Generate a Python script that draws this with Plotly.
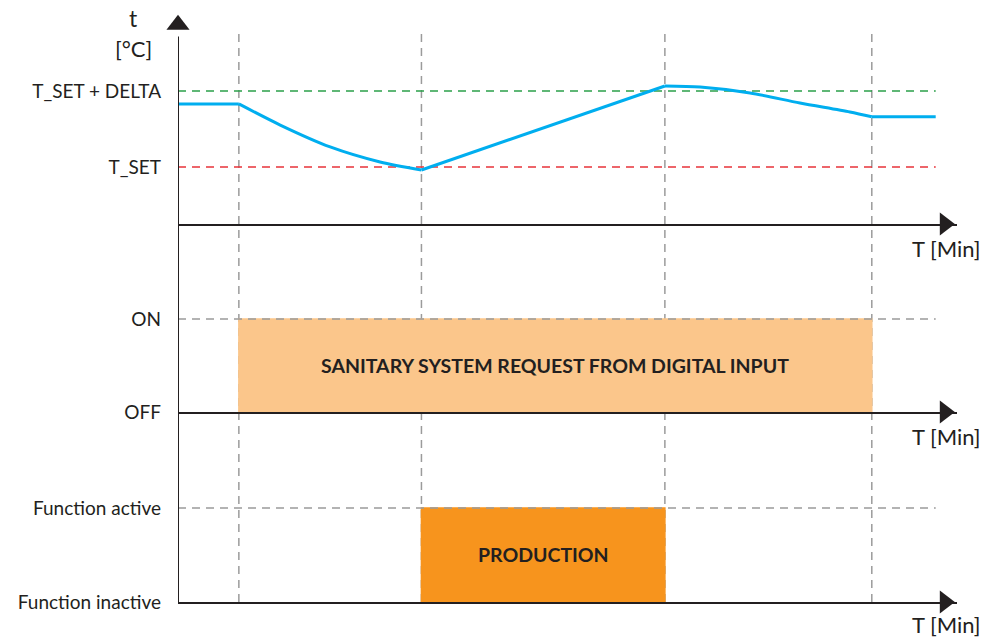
import plotly.graph_objects as go
from plotly.subplots import make_subplots

# switching instants (minutes)
t_start, t_request_on, t_production_on, t_production_off, t_request_off, t_end = 0, 1, 4, 8, 11.4, 12.45
x_max = 12.8

# temperature values
t_set = 40
t_set_delta = 45
temp_x = [0, 1, 1.68, 2.5, 3.32, 4, 8, 8.58, 9.4, 10.22, 11.04, 11.4, 12.45]
temp_y = [44.15, 44.15, 42.76, 41.32, 40.33, 39.8, 45.33, 45.26, 44.87, 44.21, 43.62, 43.3, 43.3]

off_on_vals = [0, 1]
off_on_text = ["OFF", "ON"]
func_vals = [0, 1]
func_text = ["Function inactive", "Function active"]

FONT = "Lato"
DARK = "#231f20"
GREY = "#9b9b9b"
LIGHT_ORANGE = "#fbc68b"
ORANGE = "#f7941d"

fig = make_subplots(rows=3, cols=1, shared_xaxes=False)

# temperature panel
fig.add_trace(go.Scatter(x=[t_start, t_end], y=[t_set_delta] * 2, mode="lines",
                         line=dict(color="#2ba04a", width=1.5, dash="8px,6px")), row=1, col=1)
fig.add_trace(go.Scatter(x=[t_start, t_end], y=[t_set] * 2, mode="lines",
                         line=dict(color="#e8333a", width=1.5, dash="8px,6px")), row=1, col=1)
# temperature curve, drawn piece by piece so the flat parts stay flat
for a, b, shape in [(0, 2, "linear"), (1, 6, "spline"), (5, 7, "linear"), (6, 12, "spline"), (11, 13, "linear")]:
    fig.add_trace(go.Scatter(x=temp_x[a:b], y=temp_y[a:b], mode="lines",
                             line=dict(color="#00aeef", width=3, shape=shape, smoothing=0.8)),
                  row=1, col=1)

# vertical dashed markers (under the boxes)
for tx in [t_request_on, t_production_on, t_production_off, t_request_off]:
    fig.add_shape(type="line", x0=tx, x1=tx, xref="x", yref="paper", y0=0, y1=0.966,
                  layer="below", line=dict(color=GREY, width=1.5, dash="8px,6px"))

# request panel
fig.add_trace(go.Scatter(x=[t_start, t_end], y=[1, 1], mode="lines",
                         line=dict(color=GREY, width=1.5, dash="8px,6px")), row=2, col=1)
fig.add_shape(type="rect", x0=t_request_on, x1=t_request_off, y0=0, y1=1,
              fillcolor=LIGHT_ORANGE, line=dict(color=LIGHT_ORANGE, width=1.5),
              layer="below", row=2, col=1)

# production panel
fig.add_trace(go.Scatter(x=[t_start, t_end], y=[1, 1], mode="lines",
                         line=dict(color=GREY, width=1.5, dash="8px,6px")), row=3, col=1)
fig.add_shape(type="rect", x0=t_production_on, x1=t_production_off, y0=0, y1=1,
              fillcolor=ORANGE, line=dict(color=ORANGE, width=1.5),
              layer="below", row=3, col=1)

# main vertical axis line
fig.add_shape(type="line", x0=0, x1=0, xref="x", yref="paper", y0=0, y1=0.96,
              line=dict(color=DARK, width=2))

# arrow heads
for r, yv in [(1, 36.25), (2, 0), (3, 0)]:
    fig.add_trace(go.Scatter(x=[12.6], y=[yv], mode="markers", cliponaxis=False,
                             marker=dict(symbol="triangle-right", size=20, color=DARK)), row=r, col=1)
fig.add_trace(go.Scatter(x=[0], y=[49.35], mode="markers", cliponaxis=False,
                         marker=dict(symbol="triangle-up", size=20, color=DARK)), row=1, col=1)

fig.update_traces(showlegend=False, hoverinfo="skip")

axis_common = dict(showgrid=False, zeroline=False, ticks="", ticklabelstandoff=16,
                   tickfont=dict(family=FONT, size=19, color=DARK))
fig.update_layout(
    width=987, height=638,
    margin=dict(l=178, r=30, t=13, b=36),
    plot_bgcolor="white", paper_bgcolor="white",
    showlegend=False,
    font=dict(family=FONT, color=DARK),
    yaxis=dict(domain=[0.6418, 1.0], range=[36.25, 50.13],
               tickvals=[t_set, t_set_delta], ticktext=["T_SET", "T_SET + DELTA"], **axis_common),
    yaxis2=dict(domain=[0.3226, 0.5297], range=[0, 1.312],
                tickvals=off_on_vals, ticktext=off_on_text, **axis_common),
    yaxis3=dict(domain=[0, 0.2241], range=[0, 1.404],
                tickvals=func_vals, ticktext=func_text, **axis_common),
)
for ax in ["xaxis", "xaxis2", "xaxis3"]:
    fig.layout[ax].update(range=[0, x_max], showgrid=False, zeroline=False, showticklabels=False,
                          ticks="", showline=True, linecolor=DARK, linewidth=2)

# axis captions
for yref, ybot, ysh in [("y", 36.25, -9), ("y2", 0, -9), ("y3", 0, -7)]:
    fig.add_annotation(x=x_max, y=ybot, xref="x", yref=yref, text="T [Min]", showarrow=False,
                       xanchor="right", yanchor="top", xshift=26, yshift=ysh,
                       font=dict(family=FONT, size=22, color=DARK))
fig.add_annotation(text="t", x=0, y=1, xref="x", yref="paper", showarrow=False,
                   xanchor="center", yanchor="middle", xshift=-45, yshift=-5,
                   font=dict(family=FONT, size=23, color=DARK))
fig.add_annotation(text="[°C]", x=0, y=1, xref="x", yref="paper", showarrow=False,
                   xanchor="center", yanchor="middle", xshift=-45, yshift=-35,
                   font=dict(family=FONT, size=22, color=DARK))

# box labels
fig.add_annotation(x=(t_request_on + t_request_off) / 2, y=0.5, xref="x", yref="y2",
                   text="<b>SANITARY SYSTEM REQUEST FROM DIGITAL INPUT</b>", showarrow=False,
                   font=dict(family=FONT, size=19.5, color=DARK))
fig.add_annotation(x=(t_production_on + t_production_off) / 2, y=0.5, xref="x", yref="y3",
                   text="<b>PRODUCTION</b>", showarrow=False,
                   font=dict(family=FONT, size=19.5, color=DARK))

fig.write_html("out.html", config={"displayModeBar": False},
               post_script="document.body.style.margin='0';")
